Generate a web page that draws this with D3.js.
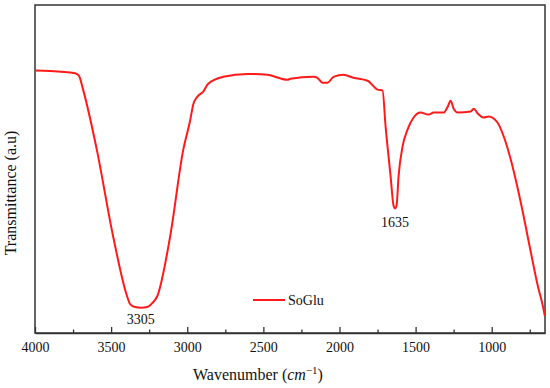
<!DOCTYPE html>
<html><head><meta charset="utf-8">
<script src="https://cdn.jsdelivr.net/npm/d3@7"></script>
<style>body{margin:0;background:#fff}svg text{font-family:"Liberation Serif","Times New Roman",serif;fill:#111}</style>
</head><body><svg id="c" width="550" height="388"></svg>
<script>
const wavenumber = [4000,3901,3737,3711,3684,3594,3487,3395,3375,3342,3303,3263,3230,3197,3112,3026,2980,2961,2934,2895,2862,2763,2605,2474,2342,2322,2171,2145,2112,2079,2039,1974,1908,1816,1750,1717,1697,1664,1645,1635,1625,1612,1586,1553,1513,1467,1414,1382,1316,1289,1270,1250,1224,1138,1118,1092,1053,1020,961,921,875,809,743,697,664,651];
const transmittance = [80.0,79.9,79.2,78.4,74.2,55.9,29.5,11.2,8.8,7.9,7.7,7.9,9.1,11.2,29.5,55.9,65.0,69.6,72.0,73.6,76.0,78.1,79.0,78.7,77.2,77.5,78.1,77.8,76.3,76.3,78.1,78.7,77.8,76.9,74.2,73.9,62.9,47.7,38.9,38.0,38.9,47.7,56.8,62.0,65.7,67.2,66.6,67.2,67.2,69.0,70.8,68.4,67.2,67.5,68.4,66.9,65.7,66.0,64.1,59.9,52.9,39.8,24.6,14.3,8.2,5.2];
const xTicks = [4000,3500,3000,2500,2000,1500,1000];
const minorTicks = [3750,3250,2750,2250,1750,1250,750];
const peakLabels = [{wn:3305, t:7.7, text:"3305", off:16},{wn:1635, t:38.0, text:"1635", off:19}];
const seriesName = "SoGlu";

const svg = d3.select("#c");
const L=35,R=545,T=5,B=333;
const x = d3.scaleLinear().domain([4000,650]).range([L,R]);
const y = d3.scaleLinear().domain([0,100]).range([B,T]);

svg.append("rect").attr("x",L).attr("y",T).attr("width",R-L).attr("height",B-T)
  .attr("fill","none").attr("stroke","#333").attr("stroke-width",1.5);

const ax = svg.append("g").attr("transform",`translate(0,${B})`)
  .call(d3.axisBottom(x).tickValues(xTicks).tickSizeInner(-6).tickSizeOuter(0).tickPadding(9).tickFormat(d3.format("d")));
ax.select(".domain").attr("stroke","#333").attr("stroke-width",1.5);
ax.selectAll(".tick line").attr("stroke","#333").attr("stroke-width",1.3);
ax.selectAll(".tick text").attr("font-size",14).attr("font-family","Liberation Serif").attr("fill","#111");
const ax2 = svg.append("g").attr("transform",`translate(0,${B})`)
  .call(d3.axisBottom(x).tickValues(minorTicks).tickSizeInner(-3.5).tickSizeOuter(0).tickFormat(""));
ax2.select(".domain").remove();
ax2.selectAll(".tick line").attr("stroke","#333").attr("stroke-width",1.3);

const data = wavenumber.map((w,i)=>({w, t:transmittance[i]}));
svg.append("path").datum(data)
  .attr("d", d3.line().x(d=>x(d.w)).y(d=>y(d.t)).curve(d3.curveMonotoneX))
  .attr("fill","none").attr("stroke","#ff1a1a").attr("stroke-width",2);

peakLabels.forEach(p=>{
  svg.append("text").attr("x",x(p.wn)).attr("y",y(p.t)+p.off).attr("text-anchor","middle")
    .attr("font-size",14).text(p.text);
});

svg.append("line").attr("x1",253).attr("x2",285).attr("y1",300).attr("y2",300)
  .attr("stroke","#ff1a1a").attr("stroke-width",2);
svg.append("text").attr("x",288).attr("y",305).attr("font-size",14).text(seriesName);

const xt = svg.append("text").attr("x",193).attr("y",380).attr("font-size",16);
xt.append("tspan").text("Wavenumber (");
xt.append("tspan").attr("font-style","italic").text("cm");
xt.append("tspan").attr("font-size",11).attr("dy",-6).text("\u22121");
xt.append("tspan").attr("dy",6).text(")");

svg.append("text").attr("transform","translate(16,193) rotate(-90)").attr("text-anchor","middle")
  .attr("font-size",16).text("Transmittance (a.u)");
</script></body></html>
